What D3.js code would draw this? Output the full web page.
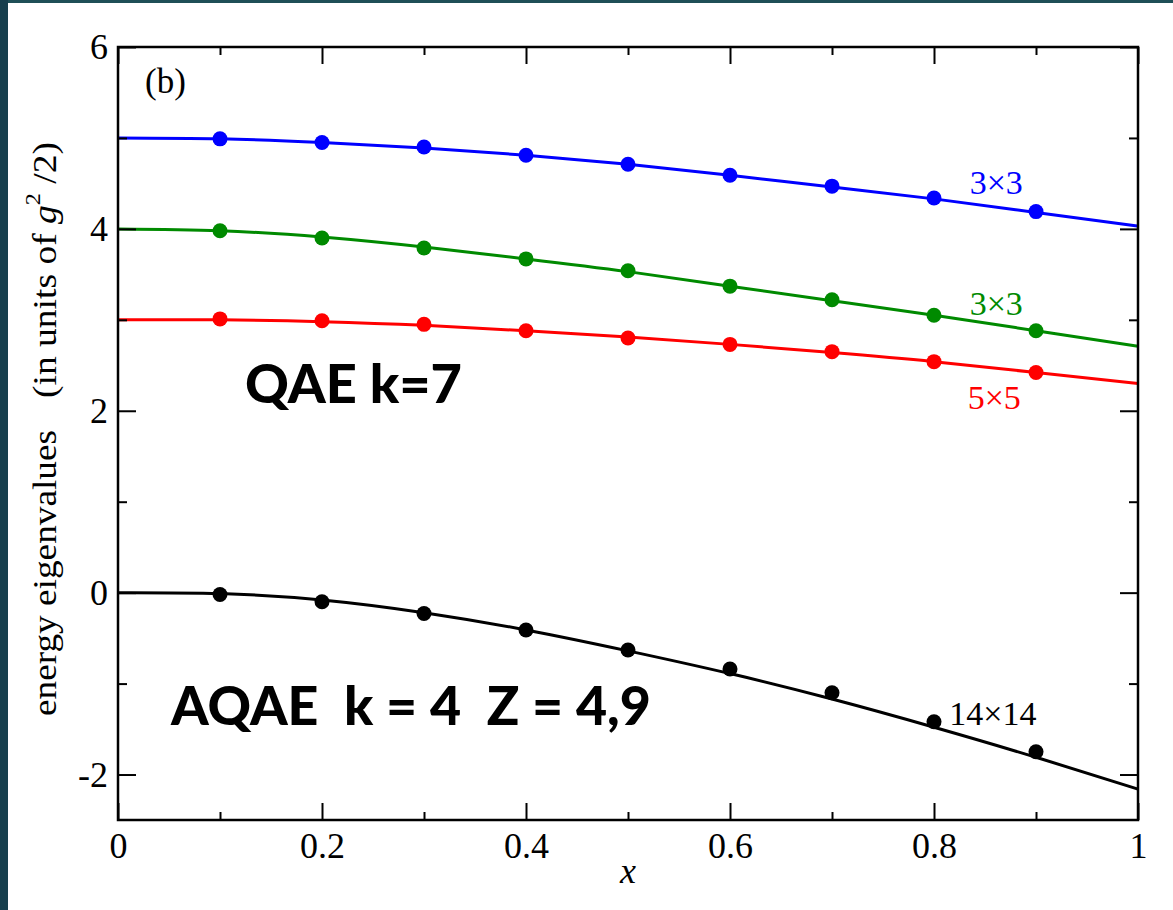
<!DOCTYPE html>
<html>
<head>
<meta charset="utf-8">
<script src="https://cdn.jsdelivr.net/npm/d3@7"></script>
<style>
  html, body { margin: 0; padding: 0; background: #ffffff; }
  svg { display: block; }
</style>
</head>
<body>
<script>
// ---------- data ----------
const xLine = [0, 0.1, 0.2, 0.3, 0.4, 0.5, 0.6, 0.7, 0.8, 0.9, 1.0];
const xDots = [0.1, 0.2, 0.3, 0.4, 0.5, 0.6, 0.7, 0.8, 0.9];

const blueLine  = [5.00, 4.99, 4.95, 4.89, 4.81, 4.71, 4.59, 4.46, 4.33, 4.18, 4.03];
const greenLine = [4.00, 3.98, 3.91, 3.80, 3.67, 3.53, 3.37, 3.21, 3.05, 2.88, 2.71];
const redLine   = [3.00, 3.00, 2.98, 2.94, 2.88, 2.81, 2.73, 2.64, 2.54, 2.42, 2.30];
const blackLine = [0.00, -0.01, -0.08, -0.22, -0.41, -0.64, -0.89, -1.17, -1.48, -1.81, -2.16];

const blueDots  = [4.99, 4.95, 4.90, 4.81, 4.71, 4.59, 4.47, 4.34, 4.19];
const greenDots = [3.98, 3.90, 3.79, 3.67, 3.54, 3.37, 3.22, 3.05, 2.88];
const redDots   = [3.01, 2.99, 2.95, 2.88, 2.80, 2.73, 2.65, 2.54, 2.42];
const blackDots = [-0.02, -0.10, -0.23, -0.41, -0.63, -0.84, -1.10, -1.42, -1.75];

const seriesLabels = ["3\u00d73", "3\u00d73", "5\u00d75", "14\u00d714"];

const xTickValues = [0, 0.2, 0.4, 0.6, 0.8, 1];
const xTickLabels = ["0", "0.2", "0.4", "0.6", "0.8", "1"];
const yTickValues = [-2, 0, 2, 4, 6];
const yTickLabels = ["-2", "0", "2", "4", "6"];

// ---------- layout ----------
const W = 1173, H = 910;
const mLeft = 118, mRight = 1138, mTop = 47, mBottom = 820;
const serif = "'Liberation Serif', 'Times New Roman', serif";
const sans = "Lato, 'DejaVu Sans', sans-serif";

const series = [
  {line: blueLine,  dots: blueDots,  color: "#0000ff", label: seriesLabels[0]},
  {line: greenLine, dots: greenDots, color: "#008a00", label: seriesLabels[1]},
  {line: redLine,   dots: redDots,   color: "#ff0000", label: seriesLabels[2]},
  {line: blackLine, dots: blackDots, color: "#000000", label: seriesLabels[3]}
];

const svg = d3.select("body").append("svg").attr("width", W).attr("height", H);

// frame bands
svg.append("rect").attr("x", 0).attr("y", 0).attr("width", W).attr("height", 3).attr("fill", "#1f4f57");
svg.append("rect").attr("x", 0).attr("y", 0).attr("width", 8).attr("height", H).attr("fill", "#173f4d");

const x = d3.scaleLinear().domain([0, 1]).range([mLeft, mRight]);
const y = d3.scaleLinear().domain([-2.5, 6]).range([mBottom, mTop]);

// ---------- curves ----------
const lineGen = d3.line().x(d => x(d[0])).y(d => y(d[1])).curve(d3.curveNatural);
const plot = svg.append("g");
series.forEach(s => {
  plot.append("path")
    .attr("d", lineGen(xLine.map((xv, i) => [xv, s.line[i]])))
    .attr("fill", "none").attr("stroke", s.color).attr("stroke-width", 3);
  plot.selectAll(null).data(xDots.map((xv, i) => [xv, s.dots[i]])).enter()
    .append("circle")
    .attr("cx", d => x(d[0])).attr("cy", d => y(d[1])).attr("r", 7.5)
    .attr("fill", s.color);
});

// ---------- axes ----------
function styleAxis(g) {
  g.selectAll(".domain").remove();
  g.selectAll("line").attr("stroke", "#000").attr("stroke-width", 2);
}
const xMinor = [0.1, 0.3, 0.5, 0.7, 0.9];
const yMinor = [-1, 1, 3, 5];

// bottom
svg.append("g").attr("transform", `translate(0,${mBottom})`)
  .call(d3.axisBottom(x).tickValues(xTickValues).tickSizeInner(-17).tickSizeOuter(0).tickFormat((d, i) => xTickLabels[i]).tickPadding(12))
  .call(styleAxis)
  .call(g => g.selectAll("text").attr("font-family", serif).attr("font-size", 36).attr("fill", "#000"));
svg.append("g").attr("transform", `translate(0,${mBottom})`)
  .call(d3.axisBottom(x).tickValues(xMinor).tickSize(-8).tickFormat(""))
  .call(styleAxis);
// top
svg.append("g").attr("transform", `translate(0,${mTop})`)
  .call(d3.axisTop(x).tickValues(xTickValues).tickSize(-17).tickFormat(""))
  .call(styleAxis);
svg.append("g").attr("transform", `translate(0,${mTop})`)
  .call(d3.axisTop(x).tickValues(xMinor).tickSize(-8).tickFormat(""))
  .call(styleAxis);
// left
svg.append("g").attr("transform", `translate(${mLeft},0)`)
  .call(d3.axisLeft(y).tickValues(yTickValues).tickSizeInner(-18).tickSizeOuter(0).tickFormat((d, i) => yTickLabels[i]).tickPadding(10))
  .call(styleAxis)
  .call(g => g.selectAll("text").attr("font-family", serif).attr("font-size", 36).attr("fill", "#000"));
svg.append("g").attr("transform", `translate(${mLeft},0)`)
  .call(d3.axisLeft(y).tickValues(yMinor).tickSize(-9).tickFormat(""))
  .call(styleAxis);
// right
svg.append("g").attr("transform", `translate(${mRight},0)`)
  .call(d3.axisRight(y).tickValues(yTickValues).tickSize(-18).tickFormat(""))
  .call(styleAxis);
svg.append("g").attr("transform", `translate(${mRight},0)`)
  .call(d3.axisRight(y).tickValues(yMinor).tickSize(-9).tickFormat(""))
  .call(styleAxis);

// frame
svg.append("rect").attr("x", mLeft).attr("y", mTop).attr("width", mRight - mLeft).attr("height", mBottom - mTop)
  .attr("fill", "none").attr("stroke", "#000").attr("stroke-width", 2.5);

// ---------- labels ----------
const labelPos = [
  {x: 0.835, y: 4.38},
  {x: 0.835, y: 3.05},
  {x: 0.833, y: 2.02},
  {x: 0.815, y: -1.45}
];
series.forEach((s, i) => {
  svg.append("text").attr("x", x(labelPos[i].x)).attr("y", y(labelPos[i].y))
    .attr("font-family", serif).attr("font-size", 34).attr("fill", s.color)
    .text(s.label);
});

svg.append("text").attr("x", 145).attr("y", 93)
  .attr("font-family", serif).attr("font-size", 35).attr("fill", "#000").text("(b)");

svg.append("text").attr("x", 245).attr("y", 403)
  .attr("font-family", sans).attr("font-weight", 900).attr("font-size", 53)
  .attr("textLength", 217).attr("lengthAdjust", "spacingAndGlyphs")
  .text("QAE k=7");

svg.append("text").attr("x", 171).attr("y", 725)
  .attr("font-family", sans).attr("font-weight", 900).attr("font-size", 53)
  .attr("textLength", 480).attr("lengthAdjust", "spacingAndGlyphs")
  .style("white-space", "pre")
  .text("AQAE  k = 4  Z = 4,9");

// x label
svg.append("text").attr("x", (mLeft + mRight) / 2).attr("y", 883).attr("text-anchor", "middle")
  .attr("font-family", serif).attr("font-style", "italic").attr("font-size", 36).text("x");

// y label (two parts, rotated)
svg.append("text")
  .attr("transform", `translate(56,716) rotate(-90)`)
  .attr("font-family", serif).attr("font-size", 34)
  .attr("textLength", 286).attr("lengthAdjust", "spacingAndGlyphs")
  .text("energy eigenvalues");
const yl2 = svg.append("text")
  .attr("transform", `translate(56,398) rotate(-90)`)
  .attr("font-family", serif).attr("font-size", 34)
  .attr("textLength", 256).attr("lengthAdjust", "spacingAndGlyphs");
yl2.append("tspan").text("(in units of ");
yl2.append("tspan").attr("font-style", "italic").text("g");
yl2.append("tspan").attr("font-size", 22).attr("dy", -16).text("2");
yl2.append("tspan").attr("dy", 16).text(" /2)");
</script>
</body>
</html>
